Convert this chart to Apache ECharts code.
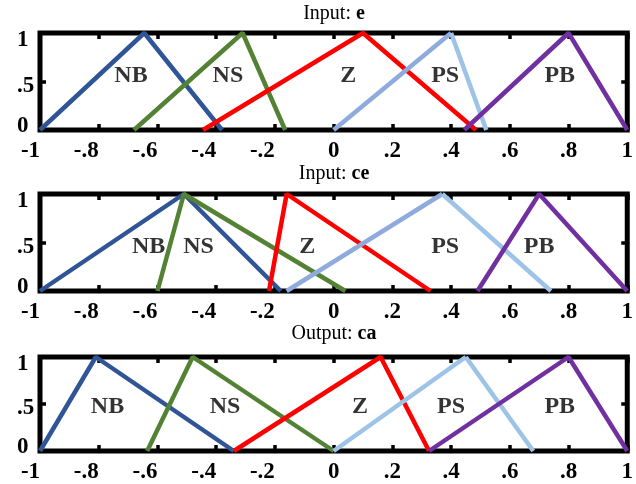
<!DOCTYPE html>
<html>
<head>
<meta charset="utf-8">
<style>
html, body { margin: 0; padding: 0; background: #fff; }
#chart { width: 636px; height: 484px; }
</style>
<script src="https://cdn.jsdelivr.net/npm/echarts@6/dist/echarts.min.js"></script>
</head>
<body>
<div id="chart"></div>
<script>
// fuzzy set names, each triangle is [left foot, peak, right foot]
var setNames = ['NB', 'NS', 'Z', 'PS', 'PB'];
var xTicks = [-1, -0.8, -0.6, -0.4, -0.2, 0, 0.2, 0.4, 0.6, 0.8, 1];
var yTicks = [0, 0.5, 1];

// Input: e
var eSets = [[-1, -0.645, -0.38], [-0.68, -0.31, -0.165], [-0.445, 0.1, 0.485], [0, 0.4, 0.52], [0.445, 0.8, 1]];
var eLabelX = [-0.69, -0.36, 0.05, 0.38, 0.77];
var eLabelY = 0.56;

// Input: ce
var ceSets = [[-1, -0.51, -0.18], [-0.6, -0.51, 0.04], [-0.22, -0.16, 0.33], [-0.16, 0.37, 0.74], [0.49, 0.7, 1]];
var ceLabelX = [-0.63, -0.46, -0.09, 0.38, 0.7];
var ceLabelY = 0.46;

// Output: ca
var caSets = [[-1, -0.81, -0.34], [-0.635, -0.48, 0], [-0.34, 0.16, 0.325], [0, 0.45, 0.68], [0.325, 0.8, 1]];
var caLabelX = [-0.77, -0.37, 0.09, 0.4, 0.77];
var caLabelY = 0.47;

var setColors = ['#2F5597', '#548235', '#FF0000', '#8FAADC', '#7030A0'];
var psFallColor = '#9DC3E6';

var plots = [
    { title: 'Input: ', bold: 'e', sets: eSets, lx: eLabelX, ly: eLabelY, psRise: '#8FAADC', top: 33, h: 97, titleTop: 4 },
    { title: 'Input: ', bold: 'ce', sets: ceSets, lx: ceLabelX, ly: ceLabelY, psRise: '#8FAADC', top: 194, h: 97, titleTop: 164 },
    { title: 'Output: ', bold: 'ca', sets: caSets, lx: caLabelX, ly: caLabelY, psRise: psFallColor, top: 357, h: 97, titleTop: 324 }
];

function fmt(v) {
    var s = (Math.round(v * 10) / 10).toString();
    return s.replace('0.', '.');
}

var font = 'Liberation Serif';
var tickFont = 23;

function findTick(list, v) {
    return list.findIndex(function(t) { return Math.abs(t - v) < 1e-6; });
}

// negative tick labels sit to the left of their tick, so pad them on the right
var ctx = document.createElement('canvas').getContext('2d');
ctx.font = 'bold ' + tickFont + 'px "' + font + '"';
var xRich = {};
xTicks.forEach(function(v, k) {
    xRich['m' + k] = {
        fontFamily: font, fontSize: tickFont, fontWeight: 'bold', color: '#000',
        padding: [0, v < 0 ? Math.round(ctx.measureText(fmt(v)).width) : 0, 0, 0]
    };
});
function xFmt(v) {
    var k = findTick(xTicks, v);
    return k < 0 ? fmt(v) : '{m' + k + '|' + fmt(v) + '}';
}

// y labels are nudged: 0 up a little, .5 and 1 down
var yPad = [[0, 0, 8, 0], [9, 0, 0, 0], [15, 0, 0, 0]];
var yRich = {};
yTicks.forEach(function(v, k) {
    yRich['y' + k] = { fontFamily: font, fontSize: tickFont, fontWeight: 'bold', color: '#000', padding: yPad[k] };
});
function yFmt(v) {
    var k = findTick(yTicks, v);
    return k < 0 ? fmt(v) : '{y' + k + '|' + fmt(v) + '}';
}

var titles = [], grids = [], xAxes = [], yAxes = [], series = [];

plots.forEach(function(p, i) {
    titles.push({
        text: '{n|' + p.title + '}{b|' + p.bold + '}',
        left: 334, top: p.titleTop, textAlign: 'center', padding: 0,
        textStyle: {
            fontFamily: font, fontSize: 20, fontWeight: 'normal', color: '#000',
            rich: {
                n: { fontFamily: font, fontSize: 20, fontWeight: 'normal', color: '#000' },
                b: { fontFamily: font, fontSize: 20, fontWeight: 'bold', color: '#000' }
            }
        }
    });
    grids.push({ left: 40, width: 588, top: p.top, height: p.h, show: true, borderColor: '#000', borderWidth: 5, backgroundColor: '#fff' });

    var tick = { show: true, inside: true, length: 6, lineStyle: { color: '#000', width: 3.5 } };
    var noLine = { show: false, onZero: false };
    xAxes.push({
        gridIndex: i, type: 'value', min: -1, max: 1, interval: 0.2, position: 'bottom',
        axisLine: noLine, splitLine: { show: false }, axisTick: tick,
        axisLabel: { margin: 10, fontFamily: font, fontSize: tickFont, fontWeight: 'bold', color: '#000', formatter: xFmt, rich: xRich }
    });
    xAxes.push({
        gridIndex: i, type: 'value', min: -1, max: 1, interval: 0.2, position: 'top',
        axisLine: noLine, splitLine: { show: false }, axisTick: tick, axisLabel: { show: false }
    });
    yAxes.push({
        gridIndex: i, type: 'value', min: 0, max: 1, interval: 0.5, position: 'left',
        axisLine: noLine, splitLine: { show: false }, axisTick: tick,
        axisLabel: {
            margin: 23, align: 'left', fontFamily: font, fontSize: tickFont, fontWeight: 'bold', color: '#000',
            formatter: yFmt, rich: yRich
        }
    });
    yAxes.push({
        gridIndex: i, type: 'value', min: 0, max: 1, interval: 0.5, position: 'right',
        axisLine: noLine, splitLine: { show: false }, axisTick: tick, axisLabel: { show: false }
    });

    var xi = i * 2, yi = i * 2;
    p.sets.forEach(function(t, j) {
        var base = { type: 'line', xAxisIndex: xi, yAxisIndex: yi, symbol: 'none', silent: true };
        if (setNames[j] === 'PS') {
            series.push(Object.assign({}, base, { data: [[t[0], 0], [t[1], 1]], lineStyle: { color: p.psRise, width: 4.5 } }));
            series.push(Object.assign({}, base, { data: [[t[1], 1], [t[2], 0]], lineStyle: { color: psFallColor, width: 4.5 } }));
        } else {
            series.push(Object.assign({}, base, { data: [[t[0], 0], [t[1], 1], [t[2], 0]], lineStyle: { color: setColors[j], width: 4.5 } }));
        }
    });
    // set names
    series.push({
        type: 'scatter', xAxisIndex: xi, yAxisIndex: yi, symbolSize: 0, silent: true, z: 5,
        data: setNames.map(function(n, j) { return { name: n, value: [p.lx[j], p.ly] }; }),
        label: {
            show: true, position: 'inside', formatter: '{b}', fontFamily: font, fontSize: 24, fontWeight: 'bold',
            color: '#000', textBorderWidth: 0
        }
    });
});

var chart = echarts.init(document.getElementById('chart'));
chart.setOption({
    animation: false,
    backgroundColor: '#fff',
    title: titles,
    grid: grids,
    xAxis: xAxes,
    yAxis: yAxes,
    series: series
});
</script>
</body>
</html>
